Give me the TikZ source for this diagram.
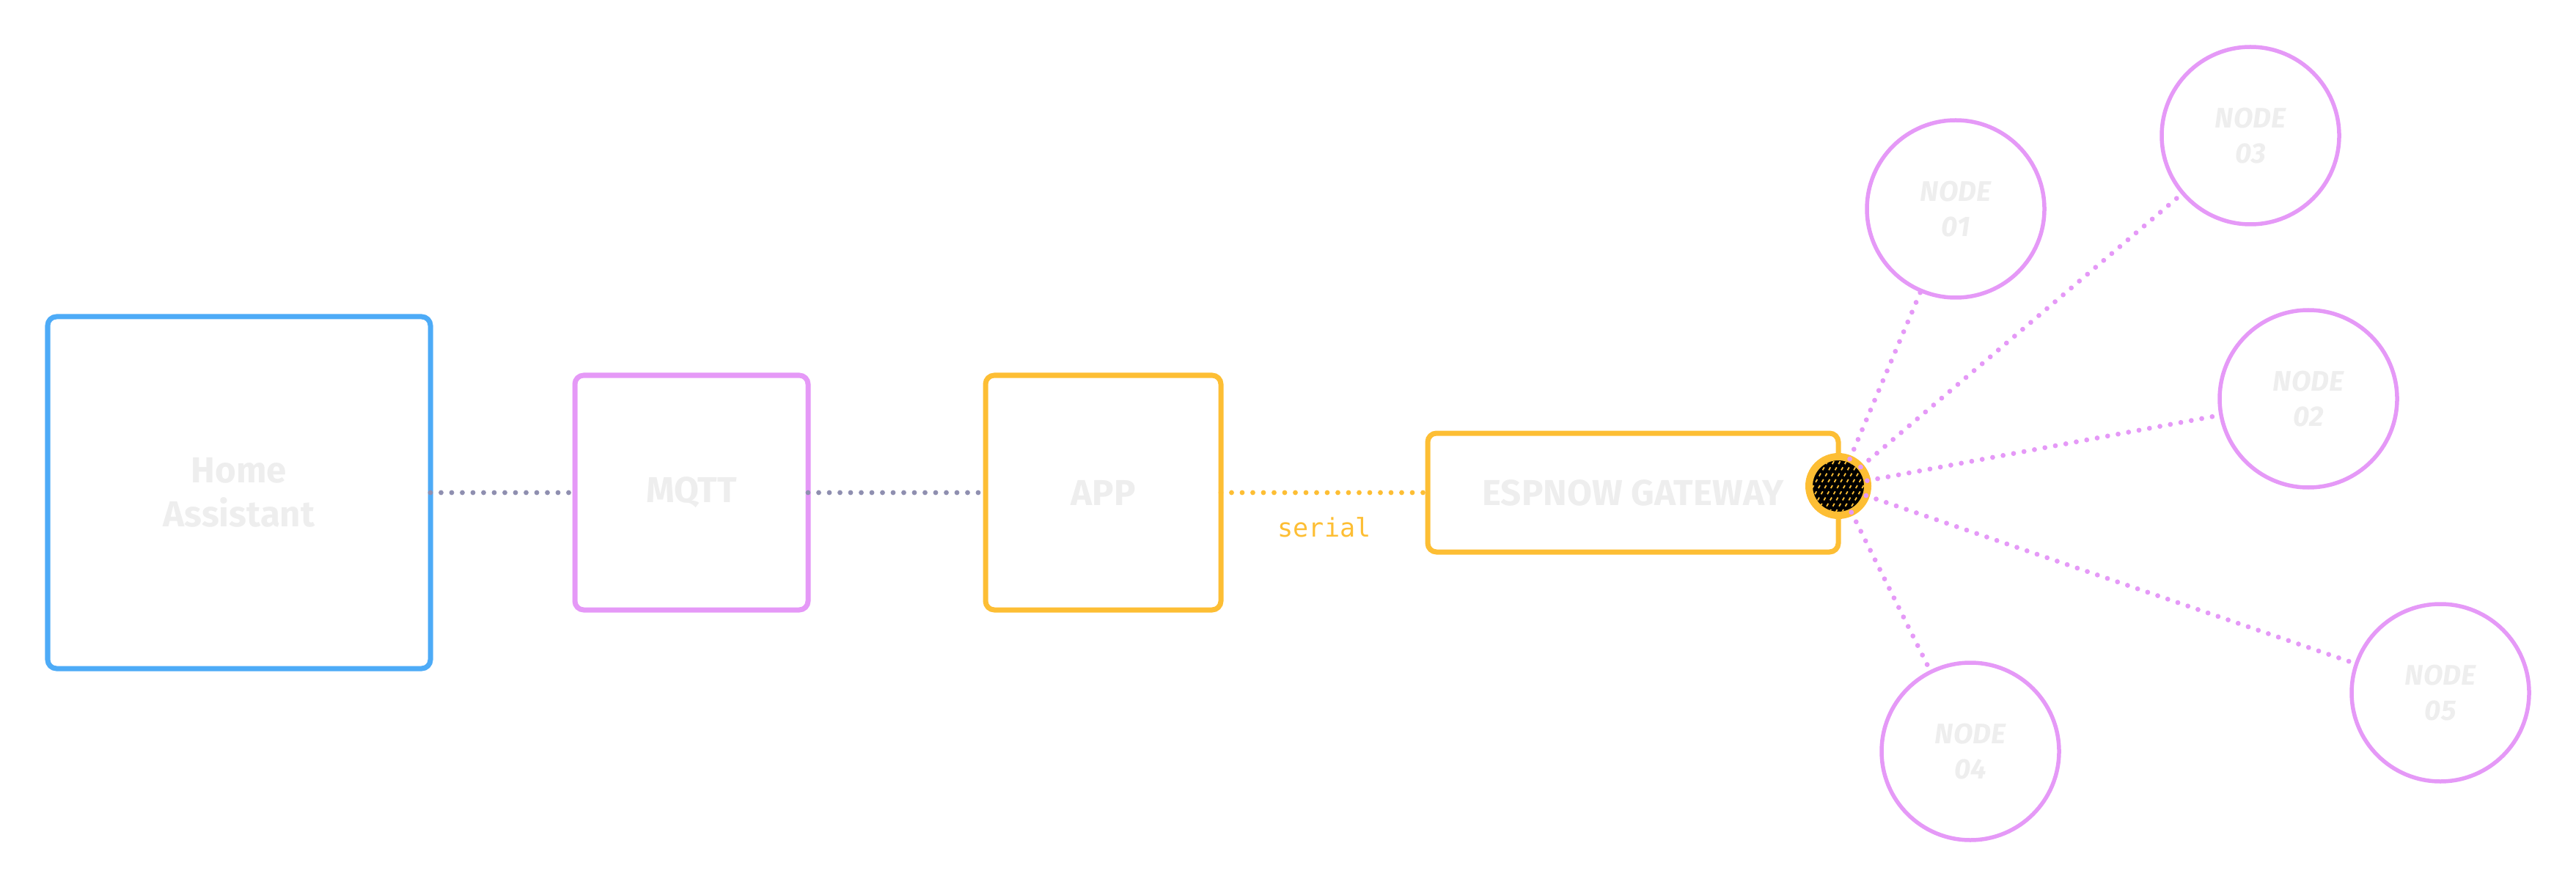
\documentclass[tikz,border=0pt]{standalone}
\usepackage{fontspec}
\setmainfont{Fira Sans}
\newfontfamily\serialfont{DejaVu Sans Mono}
\usetikzlibrary{positioning,calc}
\definecolor{haBlue}{RGB}{77,171,247}
\definecolor{mqViolet}{RGB}{229,153,247}
\definecolor{gwOrange}{RGB}{253,190,52}
\definecolor{linkGray}{RGB}{143,143,176}
\definecolor{lblGray}{RGB}{238,238,238}

\begin{document}
\begin{tikzpicture}[
	box/.style={draw, rectangle, rounded corners=0.12cm, line width=0.07cm, outer sep=0pt, inner sep=0pt, align=center, text=lblGray, font=\fontsize{14}{17}\selectfont\bfseries},
	espnode/.style={draw=mqViolet, circle, line width=0.055cm, minimum size=2.42cm, outer sep=0pt, inner sep=0pt, align=center, text=lblGray, font=\fontsize{11}{13.5}\selectfont\bfseries\itshape},
	link/.style={line width=0.068cm, line cap=round, dash pattern=on 0pt off 0.145cm},
]
\useasboundingbox (0,0) rectangle (35.13,-12.10);

	\node[box, draw=haBlue, minimum width=5.22cm, minimum height=4.80cm] (ha) at (3.26,-6.72) {Home\\Assistant};
	\node[box, draw=mqViolet, minimum width=3.18cm, minimum height=3.20cm, right=1.97cm of ha] (mqtt) {MQTT};
	\node[box, draw=gwOrange, minimum width=3.21cm, minimum height=3.20cm, right=2.42cm of mqtt] (app) {APP};
	\node[box, draw=gwOrange, minimum width=5.60cm, minimum height=1.62cm, right=2.82cm of app] (esp) {ESPNOW GATEWAY};

	% gateway antenna
	\node[circle, draw=gwOrange, fill=black, line width=0.1cm, minimum size=0.8cm, inner sep=0pt, outer sep=0pt] (gw) at ([yshift=0.09cm]esp.east) {};
	\begin{scope}
		\clip (gw.center) circle (0.35cm);
		\foreach \i in {-9,...,9}
			\draw[gwOrange, line width=0.018cm, dash pattern=on 0.045cm off 0.05cm] ($(gw.center)+(\i*0.085,0)+(-120:0.7)$) -- ++(60:1.4);
	\end{scope}

	\node[espnode] (n1) at (26.67,-2.85) {NODE\\01};
	\node[espnode] (n2) at (31.48,-5.44) {NODE\\02};
	\node[espnode] (n3) at (30.69,-1.85) {NODE\\03};
	\node[espnode] (n4) at (26.87,-10.25) {NODE\\04};
	\node[espnode] (n5) at (33.28,-9.45) {NODE\\05};

	\draw[link, linkGray] (ha) -- (mqtt);
	\draw[link, linkGray] (mqtt) -- (app);
	\draw[link, gwOrange] (app) -- node[below=0.3cm, inner sep=0pt, text=gwOrange, font=\serialfont\fontsize{10}{12}\selectfont] (serial) {serial} (esp);

	\draw[link, mqViolet] (gw) -- (n1);
	\draw[link, mqViolet] (gw) -- (n2);
	\draw[link, mqViolet] (gw) -- (n3);
	\draw[link, mqViolet] (gw) -- (n4);
	\draw[link, mqViolet] (gw) -- (n5);
\end{tikzpicture}
\end{document}
